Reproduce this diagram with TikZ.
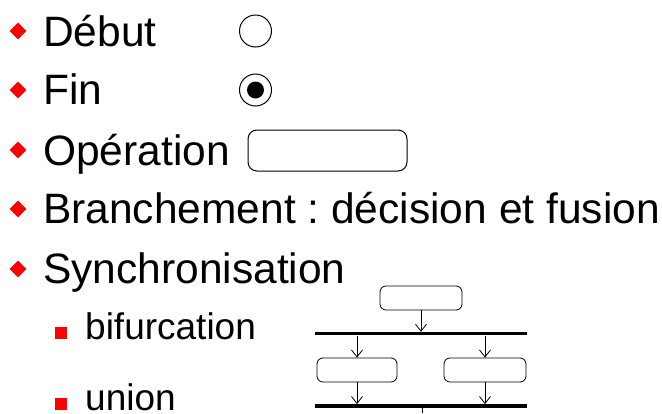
\documentclass[tikz,border=0pt]{standalone}
\usepackage{fontspec}
\setmainfont{Liberation Sans}
\usetikzlibrary{arrows.meta}
\definecolor{bulletred}{RGB}{255,0,0}
\frenchspacing
\tikzset{
  txt/.style={anchor=base west, inner sep=0pt, font=\fontsize{42.5}{50}\selectfont},
  subtxt/.style={anchor=base west, inner sep=0pt, font=\fontsize{37}{44}\selectfont},
  diam/.style={fill=bulletred, draw=none, inner sep=0pt, minimum size=12pt, rotate=45},
  sq/.style={fill=bulletred, draw=none, inner sep=0pt, minimum size=12pt},
  opbox/.style={draw, line width=1pt, rounded corners=9pt, inner sep=0pt},
  smallbox/.style={draw, line width=0.8pt, rounded corners=6pt, inner sep=0pt, minimum height=24pt},
  syncbar/.style={fill=black, draw=none, inner sep=0pt, minimum width=212pt, minimum height=3.4pt},
  flow/.style={line width=0.8pt, -{Straight Barb[length=7pt,width=11pt]}},
}
\begin{document}
\begin{tikzpicture}[x=1pt,y=-1pt]
\useasboundingbox (0,0) rectangle (662,413);
% bullets
\node[diam] (d1) at (18,31) {};
\node[diam] (d2) at (18,90) {};
\node[diam] (d3) at (18,150) {};
\node[diam] (d4) at (18,209) {};
\node[diam] (d5) at (18,269) {};
\node[sq] (s1) at (61,333) {};
\node[sq] (s2) at (61,404) {};
% texts
\node[txt] (t1) at (43,46) {Début};
\node[txt] (t2) at (43,104) {Fin};
\node[txt] (t3) at (43,165) {Opération};
\node[txt] (t4) at (43,223) {Branchement : décision et fusion};
\node[txt] (t5) at (43,283) {Synchronisation};
\node[subtxt] (t6) at (85,339) {bifurcation};
\node[subtxt] (t7) at (85,410) {union};
% symbols
\node[draw, circle, line width=1pt, minimum size=32pt, inner sep=0pt] (start) at (255.5,31) {};
\node[draw, circle, line width=1pt, minimum size=32pt, inner sep=0pt] (stop) at (255.5,90) {};
\node[fill=black, circle, minimum size=17pt, inner sep=0pt] (stopdot) at (255.5,90) {};
\node[opbox, minimum width=159pt, minimum height=41pt] (op) at (327.5,150.5) {};
% synchronisation diagram
\node[smallbox, minimum width=82pt] (topbox) at (421,298) {};
\node[syncbar] (bar1) at (421,333.7) {};
\node[smallbox, minimum width=80pt] (lbox) at (357,370) {};
\node[smallbox, minimum width=82pt] (rbox) at (485,370) {};
\node[syncbar] (bar2) at (421,406) {};
\coordinate (out) at (422,413);
\draw[flow] (topbox.south) -- (topbox.south |- bar1.north);
\draw[flow] (lbox.north |- bar1.south) -- (lbox.north);
\draw[flow] (rbox.north |- bar1.south) -- (rbox.north);
\draw[flow] (lbox.south) -- (lbox.south |- bar2.north);
\draw[flow] (rbox.south) -- (rbox.south |- bar2.north);
\draw[line width=0.8pt] (out |- bar2.south) -- (out);
\end{tikzpicture}
\end{document}
